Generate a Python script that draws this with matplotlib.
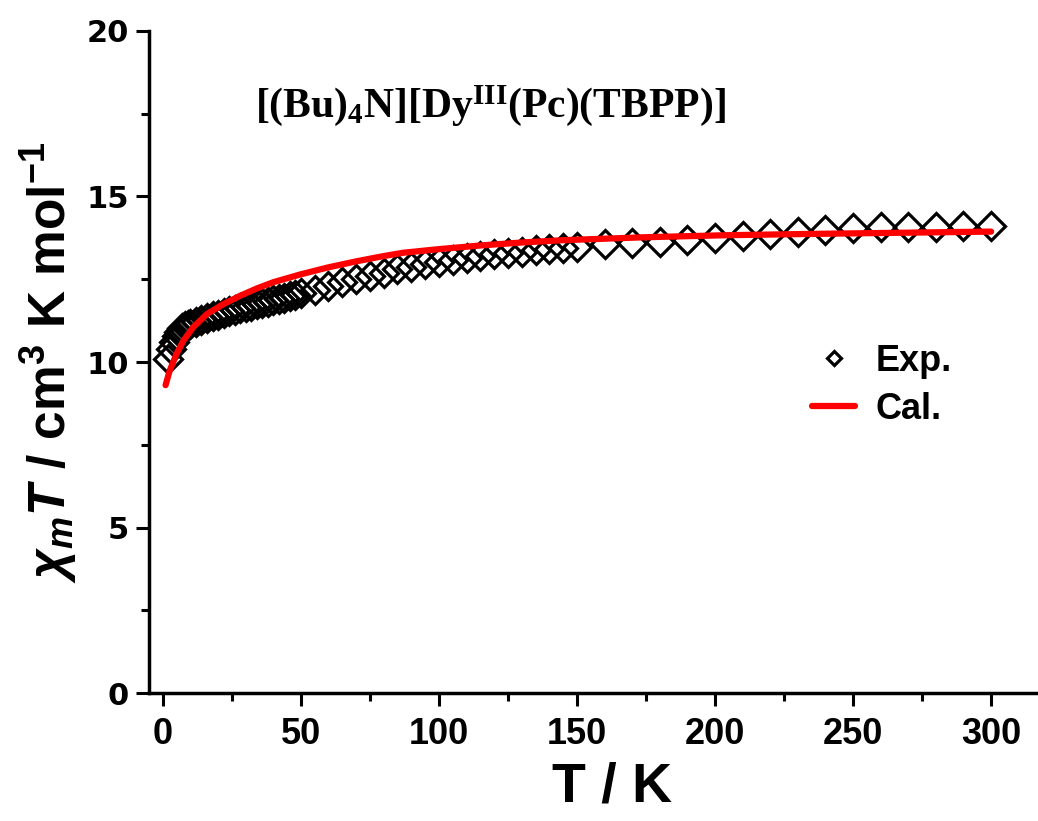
import matplotlib
matplotlib.use("Agg")
from matplotlib import pyplot as plt
from matplotlib.ticker import MultipleLocator

T_exp = [2, 3, 4, 5, 6, 7, 8, 9, 10,
         12, 14, 16, 18, 20, 22, 24, 26, 28, 30,
         32, 34, 36, 38, 40, 42, 44, 46, 48, 50,
         55, 60, 65, 70, 75, 80, 85, 90, 95, 100,
         105, 110, 115, 120, 125, 130, 135, 140, 145, 150,
         160, 170, 180, 190, 200, 210, 220, 230, 240, 250,
         260, 270, 280, 290, 300]
chi_exp = [10.10, 10.38, 10.60, 10.78, 10.92, 11.02, 11.08, 11.12, 11.15,
           11.20, 11.26, 11.32, 11.38, 11.43, 11.48, 11.53, 11.58, 11.62, 11.66,
           11.70, 11.74, 11.78, 11.82, 11.86, 11.90, 11.94, 11.98, 12.02, 12.08,
           12.18, 12.30, 12.41, 12.51, 12.61, 12.70, 12.80, 12.88, 12.96, 13.03,
           13.09, 13.15, 13.20, 13.25, 13.29, 13.33, 13.37, 13.41, 13.45, 13.48,
           13.58, 13.61, 13.64, 13.69, 13.75, 13.82, 13.87, 13.92, 13.99, 14.04,
           14.07, 14.09, 14.09, 14.12, 14.12]

# calculated curve
T_cal = [1, 2.5, 5, 7.5, 11, 16, 22, 28, 34, 40, 50, 60, 70, 80, 87,
         100, 115, 130, 145, 175, 204, 235, 263, 300]
chi_cal = [9.30, 9.74, 10.25, 10.65, 11.05, 11.45, 11.75, 12.00, 12.22, 12.41,
           12.65, 12.86, 13.04, 13.20, 13.30, 13.41, 13.52, 13.61, 13.68,
           13.77, 13.83, 13.87, 13.90, 13.94]

xticks = [0, 50, 100, 150, 200, 250, 300]
yticks = [0, 5, 10, 15, 20]

plt.rcParams['mathtext.fontset'] = 'custom'
plt.rcParams['mathtext.rm'] = 'Liberation Sans:bold'
plt.rcParams['mathtext.sf'] = 'Liberation Sans:bold'
plt.rcParams['mathtext.it'] = 'Liberation Sans:bold:italic'
plt.rcParams['mathtext.bf'] = 'Liberation Serif:bold'

fig = plt.figure(figsize=(10.38, 8.21), dpi=100)
ax = fig.add_axes([149/1038, 128/821, (1038-149)/1038, (693-31)/821])

ax.plot(T_exp, chi_exp, ls='none', marker='D', ms=14, mfc='none', mec='black',
        mew=2.3, label='Exp.', zorder=2)
ax.plot(T_cal, chi_cal, color='red', lw=4.5, solid_capstyle='round',
        label='Cal.', zorder=3)

ax.set_xlim(-5, 317)
ax.set_ylim(0, 20)
ax.set_xticks(xticks)
ax.set_yticks(yticks)
ax.xaxis.set_minor_locator(MultipleLocator(25))
ax.yaxis.set_minor_locator(MultipleLocator(2.5))

for s in ['top', 'right']:
    ax.spines[s].set_visible(False)
for s in ['left', 'bottom']:
    ax.spines[s].set_linewidth(2.5)

ax.tick_params(which='major', direction='out', length=9.5, width=2.2)
ax.tick_params(which='minor', direction='out', length=5.5, width=2.2)
ax.tick_params(axis='x', pad=8)
ax.tick_params(axis='y', pad=5)
for lab in ax.get_xticklabels():
    lab.set_fontfamily('Liberation Sans')
    lab.set_fontweight('bold')
    lab.set_fontsize(26)
for lab in ax.get_yticklabels():
    lab.set_fontfamily('DejaVu Sans')
    lab.set_fontweight('bold')
    lab.set_fontsize(22)

ax.set_xlabel('T / K', fontsize=40, fontweight='bold', family='Liberation Sans',
              va='center')
ax.xaxis.set_label_coords(0.521, -0.142)
ax.set_ylabel(r'$\chi_m T\ \mathsf{/\ cm^3\ K\ mol^{-1}}$', fontsize=37,
              va='center')
ax.yaxis.set_label_coords(-0.113, 0.5)

fig.text(490/1038, 1 - 117/821, r'$\mathbf{[(Bu)_4N][Dy^{III}(Pc)(TBPP)]}$',
         fontsize=30, ha='center', va='baseline')

ax.legend(loc='upper left', bbox_to_anchor=(812/1038, 1 - 344/821),
          bbox_transform=fig.transFigure, frameon=False, markerscale=0.5,
          borderpad=0, borderaxespad=0, handlelength=1.2, handletextpad=0.55,
          labelspacing=0.35,
          prop={'family': 'Liberation Sans', 'weight': 'bold', 'size': 26})

fig.savefig('out.png', dpi=100)
